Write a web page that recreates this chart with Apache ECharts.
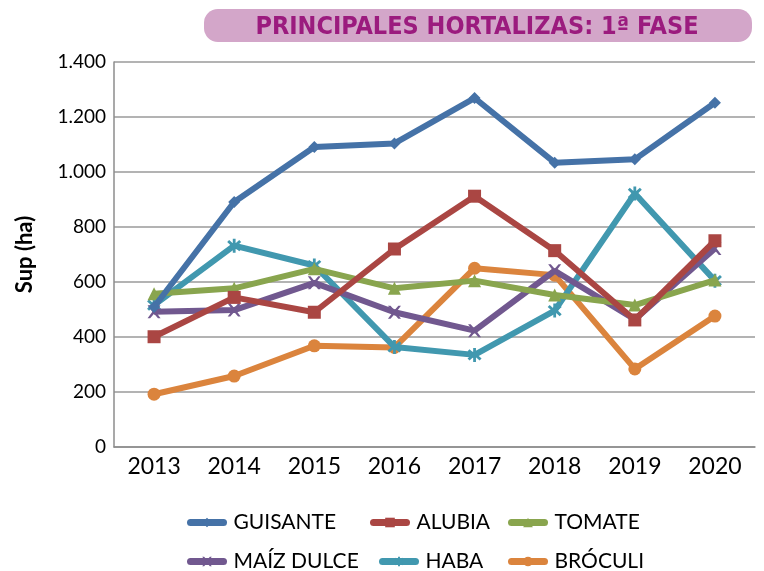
<!DOCTYPE html>
<html><head><meta charset="utf-8">
<script src="https://cdn.jsdelivr.net/npm/echarts@6/dist/echarts.min.js"></script>
<style>html,body{margin:0;padding:0;background:#fff}#c{width:764px;height:571px}</style>
</head><body><div id="c"></div>
<script>
const years = ['2013','2014','2015','2016','2017','2018','2019','2020'];
const guisante = [509, 891, 1091, 1104, 1269, 1034, 1046, 1252];
const alubia = [401, 544, 490, 720, 912, 714, 462, 750];
const tomate = [557, 577, 648, 577, 605, 553, 516, 607];
const maiz = [492, 498, 597, 490, 423, 641, 464, 722];
const haba = [516, 732, 660, 364, 335, 496, 922, 605];
const broculi = [192, 258, 368, 362, 650, 625, 284, 476];
const yTicks = [0, 200, 400, 600, 800, 1000, 1200, 1400];

const names = ['GUISANTE','ALUBIA','TOMATE','MAÍZ DULCE','HABA','BRÓCULI'];
const datas = [guisante, alubia, tomate, maiz, haba, broculi];
const colors = ['#4572A7','#AA4643','#89A54E','#71588F','#4198AF','#DB843D'];
const symbols = ['diamond','rect','triangle',
  'path://M0,0 L2,0 L5,3.5 L8,0 L10,0 L6.3,5 L10,10 L8,10 L5,6.5 L2,10 L0,10 L3.7,5 Z',
  'path://M4,0 L6,0 L6,3.3 L8.6,1 L10,2.4 L7.2,5 L10,7.6 L8.6,9 L6,6.7 L6,10 L4,10 L4,6.7 L1.4,9 L0,7.6 L2.8,5 L0,2.4 L1.4,1 L4,3.3 Z',
  'circle'];
const sizes = [12, 13, 13, 13, 14, 13];

const fmt = v => v >= 1000 ? Math.floor(v/1000) + '.' + String(v%1000).padStart(3,'0') : String(v);

const legendPos = [[187,512],[370,512],[508,512],[187,551],[379,551],[508,551]];
const FONT = 'Lato, "Noto Sans", sans-serif';

const chart = echarts.init(document.getElementById('c'));
chart.setOption({
  animation: false,
  grid: {left: 114, right: 9, top: 62, bottom: 124},
  xAxis: {
    type: 'category', data: years, boundaryGap: true,
    axisLine: {lineStyle: {color: '#8c8c8c', width: 1.5}},
    axisTick: {show: false},
    axisLabel: {color: '#000', fontSize: 23, fontFamily: FONT, margin: 8}
  },
  yAxis: {
    type: 'value', min: 0, max: 1400, interval: 200,
    name: 'Sup (ha)', nameLocation: 'middle', nameGap: 78,
    nameTextStyle: {color: '#000', fontSize: 22, fontWeight: 'bold', fontFamily: FONT},
    axisLine: {show: true, lineStyle: {color: '#8c8c8c', width: 1.5}},
    axisTick: {show: false},
    splitLine: {lineStyle: {color: '#9a9a9a', width: 1.5}},
    axisLabel: {color: '#000', fontSize: 19, fontFamily: FONT, margin: 8, formatter: v => fmt(v)}
  },
  legend: names.map((n, i) => ({
    data: [n], left: legendPos[i][0], top: legendPos[i][1], padding: 0,
    itemWidth: 33, itemHeight: 12, itemGap: 10,
    lineStyle: {width: 7, cap: 'round'},
    itemStyle: {borderWidth: 0},
    textStyle: {color: '#000', fontSize: 21, fontFamily: FONT, padding: [0, 0, 0, 5]}
  })),
  series: names.map((n, i) => ({
    name: n, type: 'line', data: datas[i],
    symbol: symbols[i], symbolSize: sizes[i],
    itemStyle: {color: colors[i]},
    lineStyle: {color: colors[i], width: 6},
    z: 10 - i
  })),
  graphic: [
    {type: 'rect', shape: {x: 204, y: 9, width: 548, height: 33, r: 14},
     style: {fill: '#D3A6C9'}},
    {type: 'text', x: 477, y: 27,
     style: {text: 'PRINCIPALES HORTALIZAS: 1ª FASE', fill: '#9B1B7E',
       align: 'center', verticalAlign: 'middle',
       font: 'bold 25px "Liberation Sans Narrow", "DejaVu Sans Condensed", sans-serif'}}
  ]
});
</script></body></html>
